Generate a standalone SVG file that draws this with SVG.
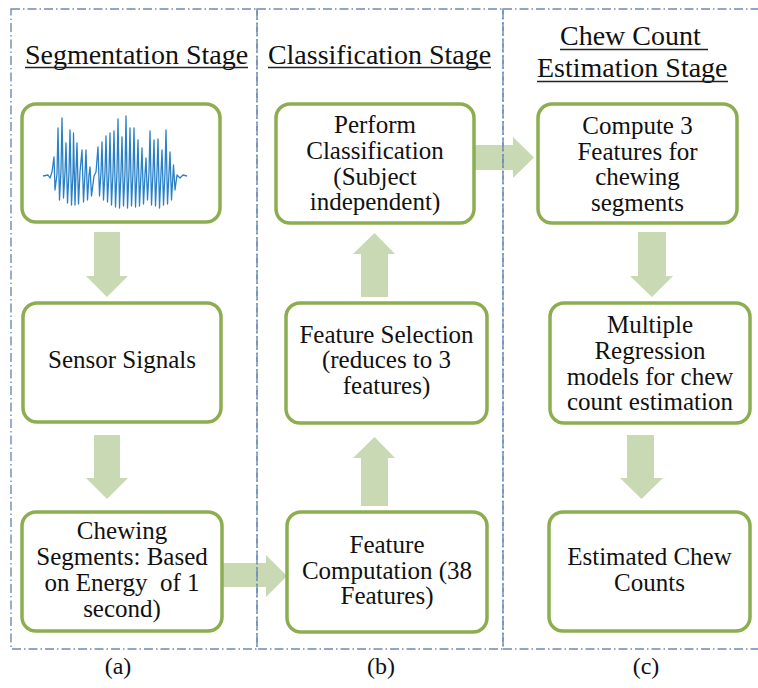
<svg xmlns="http://www.w3.org/2000/svg" width="758" height="688" viewBox="0 0 758 688">
  <style>
    .box { fill: #ffffff; stroke: #8cad50; stroke-width: 3.5; }
    .arrow { fill: #c8d9b3; stroke: none; }
    .frame { fill: none; stroke: #6f8bb5; stroke-width: 1.4; stroke-dasharray: 9 3 1.5 3; }
    .label { font-size: 25px; fill: #111111; text-anchor: middle; }
    .head { font-size: 28px; fill: #111111; }
    .uline { stroke: #222222; stroke-width: 1.4; }
    .cap { font-size: 24px; fill: #111111; text-anchor: middle; }
    .wave { fill: none; stroke: #2a80c6; stroke-width: 1.3; stroke-linejoin: round; }
  </style>

  <rect width="758" height="688" fill="#ffffff"/>

  <g font-family="'Liberation Serif', 'Times New Roman', Tinos, 'DejaVu Serif', serif">

  <!-- stage headings -->
  <g id="headings">
    <text class="head" x="136.5" y="64" text-anchor="middle">Segmentation Stage</text>
    <line class="uline" x1="25" y1="67.5" x2="248" y2="67.5"/>
    <text class="head" x="379.5" y="64" text-anchor="middle">Classification Stage</text>
    <line class="uline" x1="268" y1="67.5" x2="491" y2="67.5"/>
    <text class="head" x="560" y="45">Chew Count</text>
    <line class="uline" x1="560" y1="49.5" x2="708" y2="49.5"/>
    <text class="head" x="537" y="77">Estimation Stage</text>
    <line class="uline" x1="537" y1="81.5" x2="728" y2="81.5"/>
  </g>

  <!-- block arrows between steps -->
  <g id="connectors">
    <polygon class="arrow" points="94,232 120,232 120,276 128,276 107,297 86,276 94,276"/>
    <polygon class="arrow" points="94,435 120,435 120,478 128,478 107,499 86,478 94,478"/>
    <polygon class="arrow" points="222,563 266,563 266,555 287,576 266,597 266,587 222,587"/>
    <polygon class="arrow" points="361,506 388,506 388,458 395,458 374.5,437 353,458 361,458"/>
    <polygon class="arrow" points="361,297 388,297 388,254 395,254 374.5,233 353,254 361,254"/>
    <polygon class="arrow" points="474,145 513,145 513,137 534,157.5 513,178 513,170 474,170"/>
    <polygon class="arrow" points="638,232 666,232 666,276 673,276 652,297 630,276 638,276"/>
    <polygon class="arrow" points="627,435 654,435 654,478 663,478 641.5,499 620,478 627,478"/>
  </g>

  <!-- segmentation stage -->
  <g id="signal">
    <rect class="box" x="22" y="104" width="198" height="118" rx="14"/>
    <polyline class="wave" points="43,176 48,175 50,178 52,172 54,157 55,190 57,174 58,128 59.5,200 61,170 62,118 63.5,198 65,172 66,143 67.5,203 69,172 70,130 71.5,205 73,173 73.5,133 75,205 76,172 77,143 78.5,204 80,172 82,150 83.5,202 85,173 86,150 87.5,200 89,175 90,167 91.5,196 94,176 96,172 98,147 99.5,196 101,172 102,142 103.5,200 105,172 106,136 107.5,202 109,172 110,133 111.5,205 113,172 114,131 115.5,207 117,172 118,119 119.5,208 121,172 122,137 123.5,206 125,172 126,116 127.5,208 129,172 130,128 131.5,206 133,172 134,128 135.5,207 137,172 138,140 139.5,206 141,173 142,148 143.5,204 145,174 146,158 147.5,200 149,172 150,131 151.5,205 153,172 154,140 155.5,206 157,172 158,139 159.5,208 161,173 162,150 163.5,205 165,172 166,130 167.5,204 169,173 170,152 171.5,200 173,174 173.5,165 175,190 177,175 180,178 183,175 187,176"/>
  </g>
  <g id="sensor-signals">
    <rect class="box" x="23" y="303" width="198" height="119" rx="14"/>
    <text class="label" x="122" y="368">Sensor Signals</text>
  </g>
  <g id="chewing-segments">
    <rect class="box" x="22" y="512" width="200" height="119" rx="14"/>
    <text class="label" xml:space="preserve"><tspan x="122" y="539">Chewing</tspan><tspan x="122" y="565">Segments: Based</tspan><tspan x="122" y="591">on Energy  of 1</tspan><tspan x="122" y="616.5">second)</tspan></text>
  </g>

  <!-- classification stage -->
  <g id="feature-computation">
    <rect class="box" x="287" y="512" width="200" height="120" rx="14"/>
    <text class="label"><tspan x="387" y="552.5">Feature</tspan><tspan x="387" y="578.5">Computation (38</tspan><tspan x="387" y="604">Features)</tspan></text>
  </g>
  <g id="feature-selection">
    <rect class="box" x="286" y="303" width="201" height="120" rx="14"/>
    <text class="label"><tspan x="386.5" y="343">Feature Selection</tspan><tspan x="386.5" y="368">(reduces to 3</tspan><tspan x="386.5" y="393.5">features)</tspan></text>
  </g>
  <g id="classification">
    <rect class="box" x="276" y="104" width="198" height="119" rx="14"/>
    <text class="label"><tspan x="375" y="133">Perform</tspan><tspan x="375" y="158.5">Classification</tspan><tspan x="375" y="184.5">(Subject</tspan><tspan x="375" y="210">independent)</tspan></text>
  </g>

  <!-- chew count estimation stage -->
  <g id="compute-features">
    <rect class="box" x="538" y="104" width="199" height="119" rx="14"/>
    <text class="label"><tspan x="637.5" y="134">Compute 3</tspan><tspan x="637.5" y="159.5">Features for</tspan><tspan x="637.5" y="185">chewing</tspan><tspan x="637.5" y="210.5">segments</tspan></text>
  </g>
  <g id="regression-models">
    <rect class="box" x="550" y="303" width="200" height="120" rx="14"/>
    <text class="label"><tspan x="650" y="333">Multiple</tspan><tspan x="650" y="359">Regression</tspan><tspan x="650" y="385">models for chew</tspan><tspan x="650" y="410">count estimation</tspan></text>
  </g>
  <g id="estimated-counts">
    <rect class="box" x="549" y="512" width="201" height="119" rx="14"/>
    <text class="label"><tspan x="649.5" y="565">Estimated Chew</tspan><tspan x="649.5" y="591">Counts</tspan></text>
  </g>

  <!-- dash-dot stage frames, drawn over the arrows -->
  <g id="frames">
    <rect class="frame" x="11" y="9" width="246" height="640"/>
    <rect class="frame" x="257" y="9" width="246" height="640"/>
    <rect class="frame" x="503" y="9" width="262" height="640"/>
  </g>

  <!-- panel captions -->
  <g id="captions">
    <text class="cap" x="118" y="674">(a)</text>
    <text class="cap" x="381" y="674">(b)</text>
    <text class="cap" x="646" y="674">(c)</text>
  </g>

  </g>
</svg>
